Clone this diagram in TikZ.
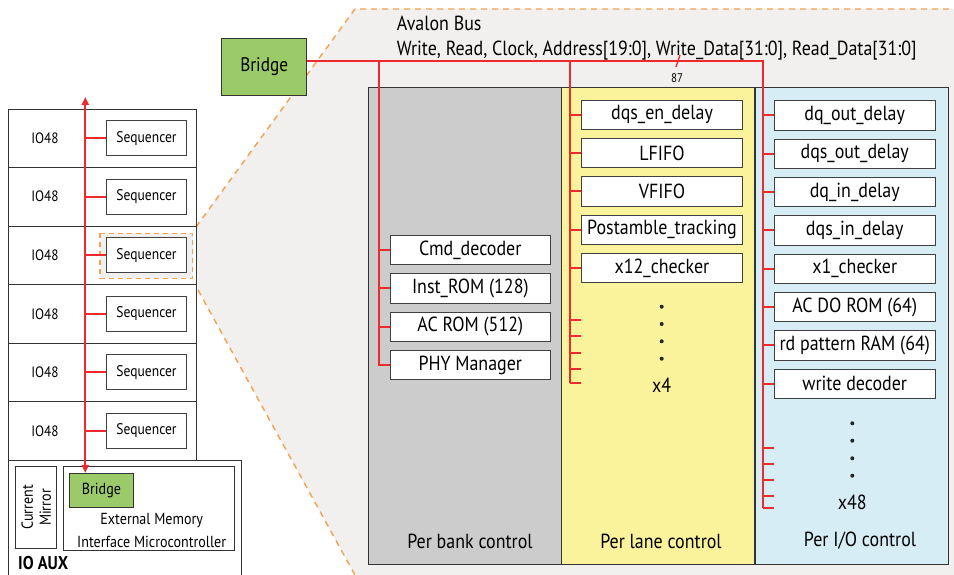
\documentclass[tikz,border=0pt]{standalone}
\usepackage{fontspec}
\setmainfont{PT Sans}[FakeStretch=0.88]
\usetikzlibrary{arrows.meta, calc}

\definecolor{busred}{HTML}{EE2A2F}
\definecolor{zoomorange}{HTML}{F6A04D}
\definecolor{zoomgray}{HTML}{F1F0EF}
\definecolor{bridgegreen}{HTML}{9BCB69}
\definecolor{bankgray}{HTML}{CCCCCC}
\definecolor{laneyellow}{HTML}{FAF39C}
\definecolor{ioblue}{HTML}{D6EDF5}

\newcommand{\fsz}[1]{\fontsize{#1}{#1}\selectfont}

\begin{document}
\begin{tikzpicture}[x=1pt, y=-1pt, font=\fsz{20.4},
  blk/.style={draw=black!75, fill=white, line width=0.8pt, minimum width=160.6pt, minimum height=29.5pt, inner sep=0pt},
  seqbox/.style={draw=black!75, fill=white, line width=0.8pt, minimum width=79.6pt, minimum height=35pt, inner sep=0pt, font=\fsz{15.4}},
  rowbox/.style={draw=black!80, line width=0.8pt, minimum width=187.3pt, minimum height=58.5pt, inner sep=0pt},
  panel/.style={draw=black!80, line width=0.8pt, minimum width=193pt, minimum height=477pt, inner sep=0pt},
  bridge/.style={draw=black!80, fill=bridgegreen, line width=0.8pt, inner sep=0pt},
  bus/.style={busred, line width=2pt},
  zoomline/.style={zoomorange, dash pattern=on 6pt off 5pt, line width=1.4pt},
  vdot/.style={circle, fill=black!85, inner sep=0pt, minimum size=4pt}]
  \useasboundingbox (0,0) rectangle (954,575);

  % zoom region
  \fill[zoomgray] (196,227) -- (355,9) -- (954,9) -- (954,575) -- (355,575) -- (198,290) -- cycle;
  \draw[zoomline] (196,227) -- (355,9) -- (951,9);
  \draw[zoomline] (198,290) -- (355,575);

  % left column
  \foreach \i in {1,...,6} {
    \node[rowbox] (row\i) at (102.35,{79.75+58.5*\i}) {};
    \node[font=\fsz{15}] (io\i) at (45,{79.75+58.5*\i}) {IO48};
  }
  \fill[zoomgray] (100,233.3) rectangle (192.7,278.3);
  \draw[zoomline, line width=1.2pt, dash pattern=on 5pt off 4pt] (100,233.3) rectangle (192.7,278.3);
  \foreach \i in {1,...,6}
    \node[seqbox] (seq\i) at (146.5,{79.75+58.5*\i}) {Sequencer};

  \node[draw=black!80, line width=0.8pt, minimum width=232.3pt, minimum height=120pt, inner sep=0pt] (ioaux) at (124.85,520) {};
  \node[draw=black!80, line width=0.8pt, rotate=90, minimum width=81.6pt, minimum height=41pt, inner sep=0pt, align=center, font=\fontsize{16}{18}\selectfont] (mirror) at (36.2,507.5) {Current\\Mirror};
  \node[draw=black!80, line width=0.8pt, minimum width=171.4pt, minimum height=83.3pt, inner sep=0pt] (emif) at (149,508.3) {};
  \node[bridge, minimum width=64.4pt, minimum height=34pt, font=\fsz{16}] (smallBridge) at (101.5,490.3) {Bridge};
  \node[align=center, font=\fontsize{16}{22.7}\selectfont] (emifText) at (151.7,530.3) {External Memory\\Interface Microcontroller};
  \node[anchor=west, font=\fsz{18.5}\bfseries, inner sep=0pt] (auxText) at (18,563) {IO AUX};

  \coordinate (busTop) at (85.3,97);
  \draw[bus, {Triangle[length=8pt, width=7pt]}-{Triangle[length=8pt, width=7pt]}] (busTop) -- (smallBridge.north -| busTop);
  \foreach \i in {1,...,6}
    \draw[bus] (seq\i.west) -- (seq\i.west -| busTop);

  % big bridge and avalon bus
  \node[bridge, minimum width=85pt, minimum height=56.7pt, font=\fsz{19.6}] (bigBridge) at (264.2,66.7) {Bridge};
  \node[anchor=west, inner sep=0pt] (avalon) at (396.7,23) {Avalon Bus};
  \node[anchor=west, inner sep=0pt] (signals) at (396.7,51) {Write, Read, Clock, Address[19:0], Write\_Data[31:0], Read\_Data[31:0]};

  % panels
  \node[panel, fill=bankgray] (bank) at (465,325.5) {};
  \node[panel, fill=laneyellow] (lane) at (658,325.5) {};
  \node[panel, fill=ioblue] (iop) at (852,325.5) {};
  \node (bankLbl) at (470,541) {Per bank control};
  \node (laneLbl) at (661,541) {Per lane control};
  \node (ioLbl) at (860,541) {Per I/O control};

  % per bank blocks
  \node[blk] (cmd) at (470.3,250) {Cmd\_decoder};
  \node[blk] (inst) at (470.3,288.3) {Inst\_ROM (128)};
  \node[blk] (acrom) at (470.3,326.7) {AC ROM (512)};
  \node[blk] (phy) at (470.3,365) {PHY Manager};

  % per lane blocks
  \node[blk] (dqsen) at (662,114.7) {dqs\_en\_delay};
  \node[blk] (lfifo) at (662,153) {LFIFO};
  \node[blk] (vfifo) at (662,191.3) {VFIFO};
  \node[blk] (postamble) at (662,229.7) {Postamble\_tracking};
  \node[blk] (chk12) at (662,268) {x12\_checker};
  \foreach \y [count=\k] in {306.7,324,341.3,358.7}
    \node[vdot] (ld\k) at (661.7,\y) {};
  \node (laneCount) at (661.7,385) {x4};

  % per io blocks
  \node[blk] (dqout) at (854.7,115.3) {dq\_out\_delay};
  \node[blk] (dqsout) at (854.7,153.7) {dqs\_out\_delay};
  \node[blk] (dqin) at (854.7,192) {dq\_in\_delay};
  \node[blk] (dqsin) at (854.7,230.3) {dqs\_in\_delay};
  \node[blk] (chk1) at (854.7,268.7) {x1\_checker};
  \node[blk] (acdo) at (854.7,307) {AC DO ROM (64)};
  \node[blk] (rdpat) at (854.7,345.3) {rd pattern RAM (64)};
  \node[blk] (wrdec) at (854.7,383.7) {write decoder};
  \foreach \y [count=\k] in {423.3,440.7,458.3,475.7}
    \node[vdot] (id\k) at (852.3,\y) {};
  \node (ioCount) at (852.3,502.7) {x48};

  % bus wiring
  \coordinate (busEnd) at (763.3,61);
  \coordinate (bankTap) at (379,61);
  \coordinate (laneTap) at (570,61);
  \coordinate (laneEnd) at (570,383.3);
  \coordinate (ioEnd) at (763.3,508.3);
  \draw[bus] (bigBridge.east |- busEnd) -- (busEnd) -- (ioEnd);
  \draw[bus] (bankTap) |- (phy.west);
  \foreach \n in {cmd,inst,acrom}
    \draw[bus] (\n.west) -- (\n.west -| bankTap);
  \draw[bus] (laneTap) -- (laneEnd);
  \foreach \n in {dqsen,lfifo,vfifo,postamble,chk12}
    \draw[bus] (\n.west) -- (\n.west -| laneTap);
  \foreach \y [count=\k] in {320,336,353.3,369,383.3} {
    \coordinate (ls\k) at (570,\y);
    \coordinate (le\k) at (580.7,\y);
    \draw[bus] (ls\k) -- (le\k);
  }
  \foreach \n in {dqout,dqsout,dqin,dqsin,chk1,acdo,rdpat,wrdec}
    \draw[bus] (\n.west) -- (\n.west -| busEnd);
  \foreach \y [count=\k] in {448.3,464,480.3,496,508.3} {
    \coordinate (is\k) at (763.3,\y);
    \coordinate (ie\k) at (774.3,\y);
    \draw[bus] (is\k) -- (ie\k);
  }

  % bus width mark
  \coordinate (slashA) at (676,67);
  \coordinate (slashB) at (680,55);
  \draw[busred, line width=1.3pt] (slashA) -- (slashB);
  \node[font=\fsz{12.5}] (width) at (677,77.7) {87};
\end{tikzpicture}
\end{document}
